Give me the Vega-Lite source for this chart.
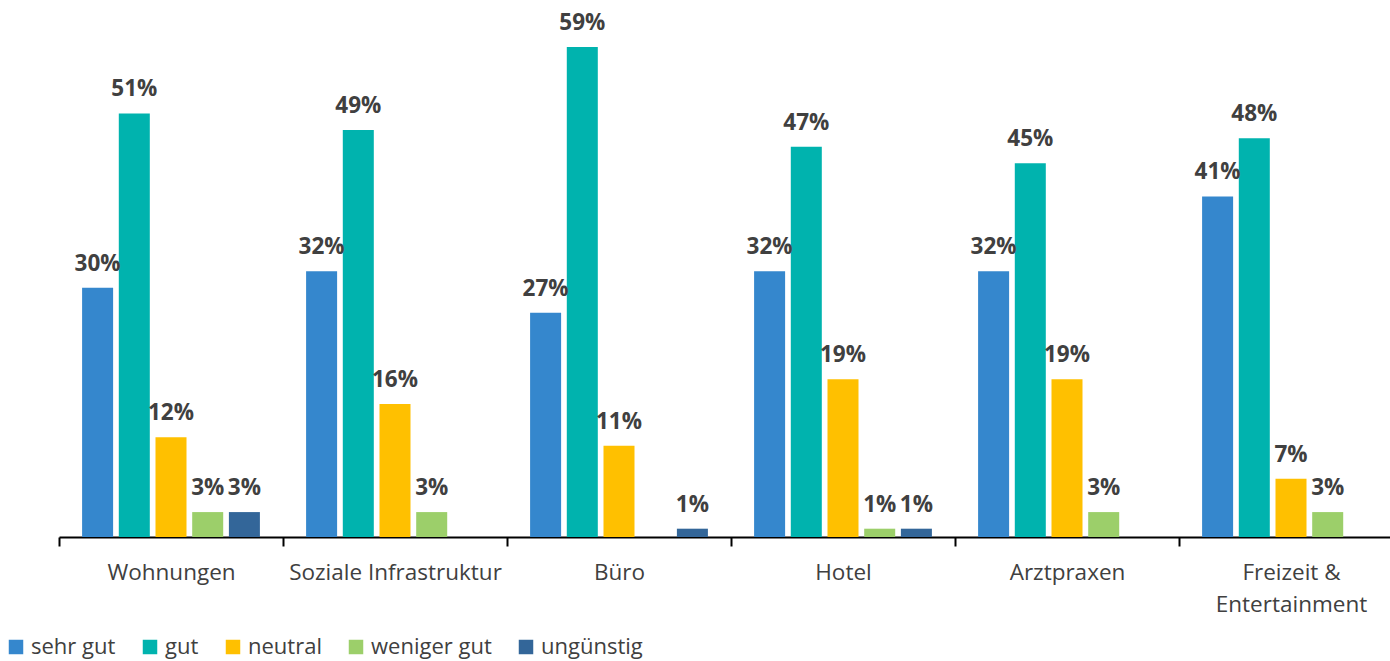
{
  "$schema": "https://vega.github.io/schema/vega-lite/v6.json",
  "width": 1331,
  "height": 537,
  "autosize": {"type": "none"},
  "padding": {"left": 59, "top": 0, "right": 0, "bottom": 124},
  "background": "white",
  "config": {
    "view": {"stroke": null},
    "font": "Open Sans",
    "text": {"font": "Open Sans"}
  },
  "data": {
    "values": [
      {"category": "Wohnungen", "rating": "sehr gut", "share": 0.30},
      {"category": "Wohnungen", "rating": "gut", "share": 0.51},
      {"category": "Wohnungen", "rating": "neutral", "share": 0.12},
      {"category": "Wohnungen", "rating": "weniger gut", "share": 0.03},
      {"category": "Wohnungen", "rating": "ungünstig", "share": 0.03},
      {"category": "Soziale Infrastruktur", "rating": "sehr gut", "share": 0.32},
      {"category": "Soziale Infrastruktur", "rating": "gut", "share": 0.49},
      {"category": "Soziale Infrastruktur", "rating": "neutral", "share": 0.16},
      {"category": "Soziale Infrastruktur", "rating": "weniger gut", "share": 0.03},
      {"category": "Büro", "rating": "sehr gut", "share": 0.27},
      {"category": "Büro", "rating": "gut", "share": 0.59},
      {"category": "Büro", "rating": "neutral", "share": 0.11},
      {"category": "Büro", "rating": "ungünstig", "share": 0.01},
      {"category": "Hotel", "rating": "sehr gut", "share": 0.32},
      {"category": "Hotel", "rating": "gut", "share": 0.47},
      {"category": "Hotel", "rating": "neutral", "share": 0.19},
      {"category": "Hotel", "rating": "weniger gut", "share": 0.01},
      {"category": "Hotel", "rating": "ungünstig", "share": 0.01},
      {"category": "Arztpraxen", "rating": "sehr gut", "share": 0.32},
      {"category": "Arztpraxen", "rating": "gut", "share": 0.45},
      {"category": "Arztpraxen", "rating": "neutral", "share": 0.19},
      {"category": "Arztpraxen", "rating": "weniger gut", "share": 0.03},
      {"category": "Freizeit & Entertainment", "rating": "sehr gut", "share": 0.41},
      {"category": "Freizeit & Entertainment", "rating": "gut", "share": 0.48},
      {"category": "Freizeit & Entertainment", "rating": "neutral", "share": 0.07},
      {"category": "Freizeit & Entertainment", "rating": "weniger gut", "share": 0.03}
    ]
  },
  "encoding": {
    "x": {
      "field": "category",
      "type": "nominal",
      "sort": ["Wohnungen", "Soziale Infrastruktur", "Büro", "Hotel", "Arztpraxen", "Freizeit & Entertainment"],
      "scale": {"range": [0, 1344], "paddingInner": 0.18, "paddingOuter": 0.09},
      "axis": {
        "title": null,
        "domainColor": "#000000",
        "domainWidth": 2,
        "tickColor": "#000000",
        "tickWidth": 2,
        "tickSize": 9,
        "tickOffset": -112,
        "labelOffset": 112,
        "labelAngle": 0,
        "labelFont": "Open Sans",
        "labelFontSize": 22.5,
        "labelColor": "#404040",
        "labelPadding": 15,
        "labelLimit": 0,
        "labelOverlap": false,
        "labelLineHeight": 32,
        "labelExpr": "datum.value == 'Freizeit & Entertainment' ? ['Freizeit &', 'Entertainment'] : datum.value"
      }
    },
    "xOffset": {
      "field": "rating",
      "type": "nominal",
      "sort": ["sehr gut", "gut", "neutral", "weniger gut", "ungünstig"],
      "scale": {"paddingInner": 0.155, "paddingOuter": 0.08}
    },
    "y": {
      "field": "share",
      "type": "quantitative",
      "scale": {"domain": [0, 0.6466], "nice": false, "zero": true},
      "axis": null
    }
  },
  "layer": [
    {
      "mark": {"type": "bar"},
      "encoding": {
        "color": {
          "field": "rating",
          "type": "nominal",
          "sort": ["sehr gut", "gut", "neutral", "weniger gut", "ungünstig"],
          "scale": {
            "domain": ["sehr gut", "gut", "neutral", "weniger gut", "ungünstig"],
            "range": ["#3587cd", "#00b3ae", "#ffc000", "#9ccf6a", "#336699"]
          },
          "legend": {
            "title": null,
            "orient": "none",
            "direction": "horizontal",
            "legendX": -54,
            "legendY": 636,
            "symbolType": "square",
            "symbolSize": 210,
            "symbolStrokeWidth": 0,
            "symbolOpacity": 1,
            "labelFont": "Open Sans",
            "labelFontSize": 22,
            "labelColor": "#404040",
            "labelOffset": 4,
            "columnPadding": 23
          }
        }
      }
    },
    {
      "mark": {
        "type": "text",
        "baseline": "alphabetic",
        "dy": -17,
        "font": "Open Sans",
        "fontSize": 22.5,
        "fontWeight": "bold",
        "color": "#404040"
      },
      "encoding": {
        "text": {"field": "share", "type": "quantitative", "format": ".0%"}
      }
    }
  ]
}
